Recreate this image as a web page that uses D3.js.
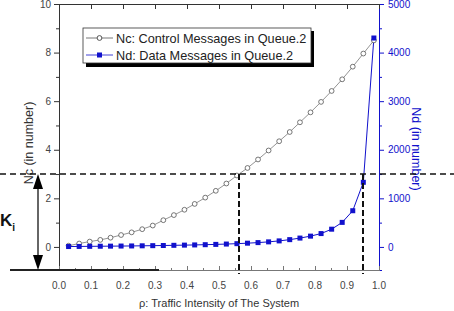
<!DOCTYPE html>
<html>
<head>
<meta charset="utf-8">
<script src="https://cdn.jsdelivr.net/npm/d3@7"></script>
<style>
  html,body{margin:0;padding:0;background:#fff;}
  svg{display:block;font-family:"Liberation Sans",Arial,sans-serif;}
</style>
</head>
<body>
<div id="chart"></div>
<script>
// traffic intensity (x) and the two queue series
const rho=[0.030,0.063,0.096,0.129,0.161,0.194,0.227,0.260,0.293,0.326,0.359,0.392,0.424,0.457,0.490,
  0.523,0.556,0.589,0.622,0.655,0.688,0.721,0.753,0.786,0.819,0.852,0.885,0.918,0.951,0.984];
const nc=[0.05,0.14,0.22,0.29,0.38,0.49,0.60,0.73,0.88,1.10,1.31,1.53,1.77,2.03,2.31,
  2.61,2.94,3.25,3.60,3.97,4.35,4.73,5.13,5.54,5.97,6.42,6.90,7.42,7.96,8.50];
const nd=[8,10,12,14,16,18,20,23,26,29,33,37,41,46,52,59,67,77,89,104,124,150,182,222,275,365,505,745,1330,4300];
const leftTicks=[0,2,4,6,8,10];
const rightTicks=[0,1000,2000,3000,4000,5000];
const xTicks=[0,0.1,0.2,0.3,0.4,0.5,0.6,0.7,0.8,0.9,1.0];
const labels={x:"\u03c1: Traffic Intensity of The System",yl:"Nc (in number)",yr:"Nd (in number)",
  nc:"Nc: Control Messages in Queue.2",nd:"Nd: Data Messages in Queue.2"};
const level=3, marks=[0.5625,0.95];

const W=454,H=311,m={top:4,right:75,bottom:41,left:59};
const blue="#1111cc";
const svg=d3.select("#chart").append("svg").attr("width",W).attr("height",H);
const x=d3.scaleLinear().domain([0,1]).range([m.left,W-m.right]);
const yl=d3.scaleLinear().domain([-0.95,10]).range([H-m.bottom,m.top]);
const yr=d3.scaleLinear().domain([-475,5000]).range([H-m.bottom,m.top]);
const x0=m.left,x1=W-m.right,y0=H-m.bottom,y1=m.top;

// axes
const styleAxis=(s,c,tc)=>{s.select(".domain").attr("stroke",c);s.selectAll("line").attr("stroke",c);
  s.selectAll("text").attr("fill",tc).attr("font-size",10).attr("font-family","Liberation Sans, Arial");};
svg.append("g").attr("transform",`translate(${x0},0)`)
  .call(d3.axisLeft(yl).tickValues([1,3,5,7,9]).tickSize(3).tickFormat(""))
  .call(s=>styleAxis(s,"#333","#333"));
svg.append("g").attr("transform",`translate(${x0},0)`)
  .call(d3.axisLeft(yl).tickValues(leftTicks).tickSize(5).tickSizeOuter(0).tickPadding(3))
  .call(s=>styleAxis(s,"#333","#444"));
svg.append("g").attr("transform",`translate(${x1},0)`)
  .call(d3.axisRight(yr).tickValues([500,1500,2500,3500,4500]).tickSize(3).tickFormat(""))
  .call(s=>styleAxis(s,blue,blue));
svg.append("g").attr("transform",`translate(${x1},0)`)
  .call(d3.axisRight(yr).tickValues(rightTicks).tickSize(5).tickSizeOuter(0).tickPadding(4).tickFormat(d3.format("d")))
  .call(s=>styleAxis(s,blue,blue));
svg.append("g").attr("transform",`translate(0,${y1})`)
  .call(d3.axisBottom(x).tickValues(xTicks).tickSize(5).tickSizeOuter(0).tickFormat(""))
  .call(s=>styleAxis(s,"#333","#333"));
svg.append("g").attr("transform",`translate(0,${y0})`)
  .call(d3.axisTop(x).tickValues(d3.range(0.05,1,0.1)).tickSize(2).tickFormat(""))
  .call(s=>styleAxis(s,"#777","#777"));
svg.append("g").attr("transform",`translate(0,${y0})`)
  .call(d3.axisTop(x).tickValues(xTicks).tickSize(4).tickSizeOuter(0).tickFormat(""))
  .call(s=>styleAxis(s,"#777","#777"));
svg.append("g").attr("fill","#444").attr("font-size",10).attr("text-anchor","middle")
  .selectAll("text").data(xTicks).join("text")
  .attr("x",d=>x(d)).attr("y",y0+19).text(d=>d.toFixed(1));

// axis titles
svg.append("text").attr("transform",`translate(33,${(y0+y1)/2+6}) rotate(-90)`)
  .attr("text-anchor","middle").attr("font-size",12.5).attr("fill","#333").text(labels.yl);
svg.append("text").attr("transform",`translate(412,${(y0+y1)/2+12}) rotate(90)`)
  .attr("text-anchor","middle").attr("font-size",12.5).attr("fill",blue).text(labels.yr);
svg.append("text").attr("x",(x0+x1)/2).attr("y",307).attr("text-anchor","middle")
  .attr("font-size",11).attr("fill","#333").text(labels.x);

// series
const pts=rho.map((r,i)=>({r,c:nc[i],d:nd[i]}));
svg.append("path").datum(pts).attr("fill","none").attr("stroke","#666").attr("stroke-width",0.7)
  .attr("d",d3.line().x(d=>x(d.r)).y(d=>yl(d.c)));
svg.append("path").datum(pts).attr("fill","none").attr("stroke",blue).attr("stroke-width",1)
  .attr("d",d3.line().x(d=>x(d.r)).y(d=>yr(d.d)));
svg.selectAll(".c").data(pts).join("circle").attr("cx",d=>x(d.r)).attr("cy",d=>yl(d.c))
  .attr("r",2.4).attr("fill","#fff").attr("stroke","#555").attr("stroke-width",0.8);
svg.selectAll(".s").data(pts).join("rect").attr("x",d=>x(d.r)-2.5).attr("y",d=>yr(d.d)-2.5)
  .attr("width",5).attr("height",5).attr("fill",blue);

// reference lines
svg.append("line").attr("x1",0).attr("x2",W).attr("y1",yl(level)).attr("y2",yl(level))
  .attr("stroke","#111").attr("stroke-width",1.6).attr("stroke-dasharray","6,4");
svg.selectAll(".v").data(marks).join("line").attr("x1",d=>x(d)).attr("x2",d=>x(d))
  .attr("y1",yl(level)).attr("y2",y0+4).attr("stroke","#111").attr("stroke-width",2).attr("stroke-dasharray","6,3");
svg.append("line").attr("x1",10).attr("x2",159).attr("y1",y0).attr("y2",y0).attr("stroke","#222").attr("stroke-width",2);

// K_i arrow
const ax=38;
svg.append("line").attr("x1",ax).attr("x2",ax).attr("y1",yl(level)+8).attr("y2",y0-8).attr("stroke","#666").attr("stroke-width",2);
svg.append("path").attr("d",`M${ax},${yl(level)}L${ax-5},${yl(level)+15}L${ax+5},${yl(level)+15}Z`).attr("fill","#000");
svg.append("path").attr("d",`M${ax},${y0}L${ax-5},${y0-15}L${ax+5},${y0-15}Z`).attr("fill","#000");
const k=svg.append("text").attr("x",0).attr("y",226).attr("font-size",17).attr("font-weight","bold").attr("fill","#111");
k.append("tspan").text("K");
k.append("tspan").attr("font-size",10).attr("dy",5).text("i");

// legend
const lg=svg.append("g").attr("transform","translate(83,28)");
lg.append("rect").attr("x",3).attr("y",3).attr("width",228).attr("height",36).attr("fill","#000");
lg.append("rect").attr("width",228).attr("height",35).attr("fill","#fff").attr("stroke","#333").attr("stroke-width",0.8);
const items=[{t:labels.nc,c:"#555",sq:false},{t:labels.nd,c:blue,sq:true}];
items.forEach((it,i)=>{
  const yy=10+i*17;
  lg.append("line").attr("x1",3).attr("x2",30).attr("y1",yy).attr("y2",yy).attr("stroke",it.c).attr("stroke-width",0.8);
  if(it.sq) lg.append("rect").attr("x",14).attr("y",yy-2.5).attr("width",5).attr("height",5).attr("fill",blue);
  else lg.append("circle").attr("cx",16.5).attr("cy",yy).attr("r",2.4).attr("fill","#fff").attr("stroke","#555");
  lg.append("text").attr("x",33).attr("y",yy+5).attr("font-size",12.7).attr("fill","#222").text(it.t);
});
</script>
</body>
</html>
